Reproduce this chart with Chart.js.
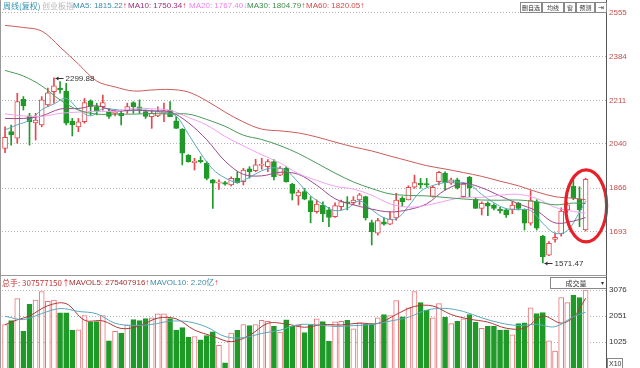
<!DOCTYPE html>
<html>
<head>
<meta charset="utf-8">
<script src="https://cdn.jsdelivr.net/npm/chart.js@4.4.1/dist/chart.umd.min.js"></script>
<style>
body { margin: 0; background: #fff; }
#wrap { position: relative; width: 640px; height: 368px; overflow: hidden; font-family: Arial, "Liberation Sans", sans-serif; }
#wrap canvas { position: absolute; left: 0; }
.t { position: absolute; font-size: 8px; line-height: 10px; white-space: nowrap; z-index: 3; }
.up { color: #e0282e; }
.btn { position: absolute; top: 2px; height: 9px; border: 1px solid #888; font-size: 6px; line-height: 9px; text-align: center; color: #333; background: #fff; z-index: 3; white-space: nowrap; overflow: hidden; font-family: "Noto Sans CJK SC", sans-serif; }
.line { position: absolute; background: #777; z-index: 2; }
</style>
</head>
<body>
<div id="wrap">
  <canvas id="price" width="640" height="276" style="top:0"></canvas>
  <canvas id="vol" width="640" height="92" style="top:276px"></canvas>

  <span class="t" style="left:3px;top:1px;color:#2f93b3;font-family:'Noto Sans CJK SC',sans-serif;">周线(复权)</span>
  <span class="t" style="left:42px;top:1px;color:#b8b8b8;font-family:'Noto Sans CJK SC',sans-serif;">创业板指</span>
  <span class="t" style="left:73px;top:1px;color:#3c8ca8;">MA5: 1815.22<span class="up">↑</span></span>
  <span class="t" style="left:128px;top:1px;color:#9a2f7c;">MA10: 1750.34<span class="up">↑</span></span>
  <span class="t" style="left:189px;top:1px;color:#f07ef0;">MA20: 1767.40<span style="color:#6cb8f0">↓</span></span>
  <span class="t" style="left:247px;top:1px;color:#3d8b4b;">MA30: 1804.79<span class="up">↑</span></span>
  <span class="t" style="left:306px;top:1px;color:#d64848;">MA60: 1820.05<span class="up">↑</span></span>

  <span class="btn" style="left:520px;width:20px;">删自选</span>
  <span class="btn" style="left:542px;width:20px;">均线</span>
  <span class="btn" style="left:564px;width:10px;">窗</span>
  <span class="btn" style="left:576px;width:17px;">预测</span>
  <span class="btn" style="left:595px;width:10px;font-size:7px;">⇥</span>

  <span class="t" style="left:2px;top:278px;color:#c03232;font-family:'Noto Sans CJK SC',Arial,sans-serif;">总手: 307577150<span class="up">↑</span></span>
  <span class="t" style="left:69px;top:278px;color:#a83232;">MAVOL5: 275407916<span class="up">↑</span></span>
  <span class="t" style="left:150px;top:278px;color:#3c8ca8;font-family:Arial,'Noto Sans CJK SC',sans-serif;">MAVOL10: 2.20亿<span class="up">↑</span></span>

  <span class="t" style="left:550px;top:277px;width:55px;height:10px;border:1px solid #888;border-right:none;color:#333;text-align:center;background:#fff;font-family:'Noto Sans CJK SC',sans-serif;font-size:7px;">成交量 <span style="font-size:6px;float:right;margin-right:2px">▾</span></span>
  <span class="t" style="left:607px;top:358px;height:9px;border:1px solid #888;color:#333;padding:0 1px;font-size:7px;line-height:9px;">X10</span>

  <div class="line" style="left:0;top:0;width:1px;height:368px;background:#999"></div>
  <div class="line" style="left:606px;top:0;width:1px;height:368px;background:#555"></div>
  <div class="line" style="left:0;top:275px;width:607px;height:1px;background:#999"></div>
</div>

<script>
// weekly candles, left to right (96 weeks)
var opens  = [2022,2088,2062,2215,2150,2122,2114,2193,2245,2259,2248,2130,2107,2127,2209,2187,2186,2167,2160,2160,
              2171,2202,2186,2167,2147,2150,2160,2173,2131,2097,1996,1966,1975,1963,1898,1885,1888,1878,1904,1891,
              1942,1934,1955,1950,1970,1917,1944,1882,1835,1852,1817,1773,1799,1780,1753,1793,1812,1808,1819,1832,
              1730,1688,1733,1724,1748,1826,1819,1869,1885,1884,1833,1891,1924,1885,1898,1832,1908,1822,1786,1806,
              1799,1782,1780,1782,1806,1780,1728,1812,1677,1602,1664,1685,1780,1874,1823,1701];
var highs  = [2107,2114,2239,2226,2160,2160,2226,2259,2299.88,2285,2278,2140,2140,2219,2213,2200,2232,2180,2175,2173,
              2200,2206,2213,2173,2173,2186,2200,2206,2147,2100,1998,1983,1990,1970,1900,1898,1892,1910,1930,1944,
              1950,1979,1983,1978,1978,1950,1950,1885,1858,1865,1832,1819,1812,1790,1808,1819,1832,1832,1845,1834,
              1740,1747,1750,1773,1845,1832,1875,1917,1904,1904,1875,1932,1930,1905,1905,1887,1912,1826,1812,1812,
              1804,1790,1784,1812,1810,1784,1856,1820,1680,1655,1690,1788,1810,1898,1871,1905];
var lows   = [2005,2035,2042,2173,2035,2055,2107,2186,2200,2239,2114,2071,2088,2121,2154,2154,2173,2140,2150,2114,
              2160,2160,2160,2140,2101,2147,2127,2147,2101,1957,1968,1937,1965,1898,1786,1861,1877,1874,1885,1878,
              1905,1930,1940,1930,1898,1915,1889,1819,1799,1820,1729,1767,1734,1714,1750,1780,1780,1800,1800,1740,
              1642,1681,1720,1722,1740,1793,1819,1865,1865,1870,1830,1878,1858,1880,1862,1828,1832,1786,1760,1757,
              1780,1767,1750,1765,1780,1701,1720,1701,1571.47,1600,1653,1677,1770,1820,1714,1697];
var closes = [2066,2075,2206,2189,2127,2134,2213,2241,2268,2252,2121,2114,2127,2202,2187,2171,2202,2148,2165,2150,
              2187,2186,2175,2148,2160,2167,2170,2147,2101,2003,1970,1972,1970,1904,1885,1890,1881,1904,1887,1937,
              1930,1957,1960,1970,1911,1945,1891,1845,1850,1822,1773,1803,1764,1750,1797,1813,1806,1819,1839,1748,
              1694,1738,1724,1744,1819,1812,1869,1888,1878,1878,1869,1928,1887,1898,1866,1882,1866,1786,1806,1795,
              1786,1776,1760,1799,1786,1728,1817,1708,1596,1648,1672,1775,1800,1826,1781,1900];
// volume, in axis units (x10^5)
var volumes = [1708,1870,2738,1442,2510,2683,3019,2630,2683,2178,2178,1482,1510,2070,1817,1830,2070,1069,1442,1377,
               1697,1910,1870,1950,1978,2138,2138,1950,1497,1590,1217,1241,1109,1281,1430,897,200,1377,1482,1708,
               1670,1708,1882,1842,1642,1417,1898,1642,1682,1401,1708,1938,1830,1057,1817,1842,1882,1550,1778,1738,
               1738,1978,2110,2070,2659,2018,2378,3019,2578,2282,1978,2538,2002,1750,1842,1938,2110,1802,1562,1642,
               1642,1497,1510,1309,1750,1778,2378,2150,2190,1069,669,2779,2578,2870,2779,3076];

// moving averages at these weeks
var ma5Weeks = [0,2,4,6,8,10,12,14,16,18,20,22,24,26,28,30,32,34,36,38,40,42,44,46,48,50,52,54,56,58,
                60,62,64,66,68,70,72,74,76,78,80,82,84,86,88,90,92,94,95];
var ma5  = [2095,2115,2133,2174,2197,2219,2176,2150,2178,2175,2170,2173,2171,2164,2149,2078,2003,1940,1906,1889,
            1908,1934,1946,1935,1888,1836,1802,1777,1786,1815,1781,1749,1744,1794,1853,1876,1888,1890,1880,1841,
            1808,1785,1781,1778,1727,1688,1698,1771,1815];
var maWeeks = [0,3,6,9,12,15,18,21,24,27,30,33,36,39,42,45,48,51,54,57,60,63,66,69,72,75,78,81,84,87,90,93,95];
var ma10 = [2140,2140,2150,2177,2179,2190,2169,2173,2169,2166,2123,2056,1972,1920,1914,1928,1920,1877,1824,1800,
            1783,1772,1781,1804,1858,1884,1867,1835,1804,1776,1729,1736,1750];
var ma20 = [2158,2150,2148,2160,2165,2168,2168,2180,2178,2172,2144,2114,2069,2032,1997,1965,1923,1896,1873,1862,
            1838,1804,1791,1798,1815,1829,1829,1838,1841,1825,1790,1774,1767];
var ma30 = [2329,2307,2268,2213,2173,2157,2157,2157,2159,2157,2157,2136,2109,2074,2057,2033,2002,1964,1925,1890,
            1864,1843,1837,1835,1829,1823,1819,1818,1819,1812,1800,1807,1805];
var ma60 = [2506,2498,2484,2421,2354,2287,2264,2248,2252,2254,2244,2209,2165,2126,2098,2091,2083,2067,2047,2028,
            2012,1992,1973,1954,1941,1927,1912,1893,1875,1851,1832,1826,1820];
var mavol5Weeks = [0,2,4,7,10,13,16,19,22,25,28,31,34,37,40,43,46,49,52,55,58,61,64,67,70,73,76,79,82,85,
                   88,91,93,94,95];
var mavol5  = [1710,1900,2054,2457,2538,1884,1859,1558,1659,1969,1940,1499,1256,1037,1287,1762,1736,1608,1712,1697,
               1774,1756,2111,2429,2447,2110,1928,1811,1571,1569,2049,1771,1993,2335,2754];
var mavol10 = [2042,1910,2150,2346,2232,2140,1765,1679,1719,1845,1824,1614,1241,1194,1364,1493,1709,1705,1639,1671,
               1717,1850,2002,2283,2352,2231,1980,1779,1676,1722,1630,2021,2200];

var priceTicks = [2555, 2384, 2211, 2040, 1866, 1693];
var volumeTicks = [3076, 2051, 1025];

var SLOTS = 99; // 96 weeks plus empty room before the axis
var UP = '#e5484d', DOWN = '#1f9a28';

var labels = [];
for (var i = 0; i < SLOTS; i++) labels.push(i < opens.length ? 'W' + (i + 1) : '');

function sparse(weeks, vals) {
    var a = [];
    for (var i = 0; i < opens.length; i++) a.push(null);
    weeks.forEach(function(w, j) { a[w] = vals[j]; });
    return a;
}

var isUp = opens.map(function(o, i) { return closes[i] >= o; });
var candleColor = isUp.map(function(u) { return u ? UP : DOWN; });

function lineSet(data, color) {
    return { type: 'line', data: data, borderColor: color, borderWidth: 1, pointRadius: 0,
             spanGaps: true, tension: 0.35, order: 0 };
}

function fixAxis(width) {
    return function(s) { s.width = width; s.paddingTop = 0; s.paddingBottom = 0; };
}

var markLabels = {
    id: 'markLabels',
    afterDatasetsDraw: function(chart) {
        var ctx = chart.ctx, x = chart.scales.x, y = chart.scales.y;
        ctx.save();
        ctx.font = '8px Arial';
        ctx.fillStyle = '#333';
        ctx.strokeStyle = '#333';
        ctx.lineWidth = 1;
        ctx.textBaseline = 'middle';
        [[8, highs[8]], [88, lows[88]]].forEach(function(m) {
            var px = Math.round(x.getPixelForValue(m[0])) + 1.5, py = Math.round(y.getPixelForValue(m[1])) + 0.5;
            ctx.beginPath(); ctx.moveTo(px, py); ctx.lineTo(px + 8, py); ctx.stroke();
            ctx.beginPath(); ctx.moveTo(px, py); ctx.lineTo(px + 3, py - 2); ctx.lineTo(px + 3, py + 2); ctx.closePath(); ctx.fill();
            ctx.fillText(m[1].toFixed(2), px + 10, py);
        });
        // red ring round the last weeks
        ctx.strokeStyle = '#e8202a';
        ctx.lineWidth = 3.2;
        ctx.beginPath();
        ctx.ellipse(x.getPixelForValue(95) + 0.5, y.getPixelForValue(1796), 20.5, 36, 0, 0, Math.PI * 2);
        ctx.stroke();
        ctx.restore();
    }
};

var plainTick = function(v) { return String(v); };

new Chart(document.getElementById('price'), {
    type: 'bar',
    data: {
        labels: labels,
        datasets: [
            { data: lows.map(function(l, i) { return [l, highs[i]]; }), backgroundColor: candleColor,
              barThickness: 1, grouped: false, order: 3 },
            { data: opens.map(function(o, i) { return [Math.min(o, closes[i]), Math.max(o, closes[i])]; }),
              backgroundColor: isUp.map(function(u) { return u ? '#fff' : DOWN; }), borderColor: candleColor,
              borderWidth: 1, borderSkipped: false, barThickness: 5, grouped: false, order: 2 },
            lineSet(sparse(maWeeks, ma60), '#cc5a5a'),
            lineSet(sparse(maWeeks, ma30), '#4a9a5a'),
            lineSet(sparse(maWeeks, ma20), '#f2a0f2'),
            lineSet(sparse(maWeeks, ma10), '#9b4a8a'),
            lineSet(sparse(ma5Weeks, ma5), '#5aa8bd')
        ]
    },
    options: {
        responsive: false, animation: false,
        layout: { padding: { left: 2, top: 10, right: 0, bottom: 0 } },
        plugins: { legend: { display: false }, tooltip: { enabled: false } },
        scales: {
            x: { display: false },
            y: {
                position: 'right', min: 1519.8, max: 2566.8,
                afterFit: fixAxis(33),
                afterBuildTicks: function(s) { s.ticks = priceTicks.map(function(v) { return { value: v }; }); },
                grid: { color: '#b4b4b4', drawTicks: false, tickLength: 0 },
                border: { display: false, dash: [1, 2] },
                ticks: { color: '#c0504d', font: { size: 8, family: 'Arial' }, padding: 2, autoSkip: false, callback: plainTick }
            }
        }
    },
    plugins: [markLabels]
});

new Chart(document.getElementById('vol'), {
    type: 'bar',
    data: {
        labels: labels,
        datasets: [
            { data: volumes, backgroundColor: isUp.map(function(u) { return u ? '#fff' : DOWN; }),
              borderColor: isUp.map(function(u) { return u ? '#ec7378' : DOWN; }), borderWidth: 1,
              barThickness: 5, order: 2 },
            lineSet(sparse(maWeeks, mavol10), '#5aa8bd'),
            lineSet(sparse(mavol5Weeks, mavol5), '#b03838')
        ]
    },
    options: {
        responsive: false, animation: false,
        layout: { padding: { left: 2, top: 12, right: 0, bottom: 0 } },
        plugins: { legend: { display: false }, tooltip: { enabled: false } },
        scales: {
            x: { display: false },
            y: {
                position: 'right', min: 0, max: 3156,
                afterFit: fixAxis(33),
                afterBuildTicks: function(s) { s.ticks = volumeTicks.map(function(v) { return { value: v }; }); },
                grid: { color: '#b4b4b4', drawTicks: false, tickLength: 0 },
                border: { display: false, dash: [1, 2] },
                ticks: { color: '#333', font: { size: 8, family: 'Arial' }, padding: 2, autoSkip: false, callback: plainTick }
            }
        }
    }
});
</script>
</body>
</html>
